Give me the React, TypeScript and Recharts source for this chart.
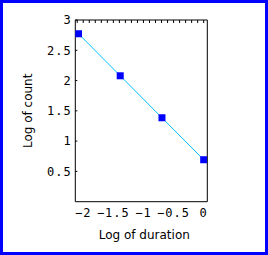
import { ComposedChart, Line, XAxis, YAxis } from "recharts"

const logDuration = [-2.079, -1.386, -0.693, 0]
const logCount = [2.773, 2.079, 1.386, 0.693]

const xTicks = [-2, -1.5, -1, -0.5, 0]
const yTicks = [0.5, 1, 1.5, 2, 2.5, 3]
const topMinorTicks = [
  -2.1, -2.0, -1.9, -1.8, -1.7, -1.6, -1.5, -1.4, -1.3, -1.2, -1.1,
  -1.0, -0.9, -0.8, -0.7, -0.6, -0.5, -0.4, -0.3, -0.2, -0.1, 0,
]

const chartData = logDuration.map((x, i) => ({ x, y: logCount[i] }))

const tickStyle = {
  fontSize: 12,
  fontFamily: "DejaVu Sans Mono",
  fill: "#000",
  letterSpacing: 1,
}

const fmt = (v: number) => String(v).replace("-", "\u2212")

function SquareDot(props: any) {
  const { cx, cy } = props
  if (cx == null || cy == null) return null
  return <rect x={cx - 3.5} y={cy - 3.5} width={7} height={7} fill="#0000ff" />
}

export default function App() {
  return (
    <div
      style={{
        position: "fixed",
        left: 0,
        top: 0,
        width: 268,
        height: 255,
        boxSizing: "border-box",
        border: "3px solid #0000ff",
        background: "#fff",
      }}
    >
      <ComposedChart
        width={262}
        height={249}
        data={chartData}
        margin={{ top: 16, right: 56.7, bottom: 10.3, left: 0 }}
      >
        <XAxis
          dataKey="x"
          type="number"
          domain={[-2.132, 0.06]}
          ticks={xTicks}
          tickFormatter={fmt}
          tick={tickStyle}
          tickLine={false}
          tickSize={0}
          tickMargin={6.5}
          axisLine={{ stroke: "#000" }}
          height={40}
          allowDataOverflow
          label={{
            value: "Log of duration",
            position: "insideBottom",
            offset: 3,
            dx: 3,
            style: { fontSize: 12, fontFamily: "DejaVu Sans", fill: "#000" },
          }}
        />
        <XAxis
          xAxisId="top"
          orientation="top"
          dataKey="x"
          type="number"
          domain={[-2.132, 0.06]}
          ticks={topMinorTicks}
          tickFormatter={() => ""}
          tickSize={-3}
          tickLine={{ stroke: "#000" }}
          axisLine={{ stroke: "#000" }}
          height={1}
          allowDataOverflow
        />
        <YAxis
          dataKey="y"
          type="number"
          domain={[0, 3]}
          ticks={yTicks}
          tickFormatter={fmt}
          tick={tickStyle}
          tickSize={-2}
          tickMargin={5.5}
          tickLine={{ stroke: "#000" }}
          axisLine={{ stroke: "#000" }}
          width={72.3}
          label={{
            value: "Log of count",
            angle: -90,
            position: "insideLeft",
            offset: 25,
            style: {
              fontSize: 12,
              fontFamily: "DejaVu Sans",
              fill: "#000",
              textAnchor: "middle",
            },
          }}
        />
        <YAxis
          yAxisId="right"
          orientation="right"
          type="number"
          domain={[0, 3]}
          ticks={yTicks}
          tick={false}
          tickLine={false}
          axisLine={{ stroke: "#000" }}
          width={1}
        />
        <Line
          type="linear"
          dataKey="y"
          stroke="#00c0ff"
          strokeWidth={1}
          dot={<SquareDot />}
          activeDot={false}
          isAnimationActive={false}
        />
      </ComposedChart>
    </div>
  )
}
